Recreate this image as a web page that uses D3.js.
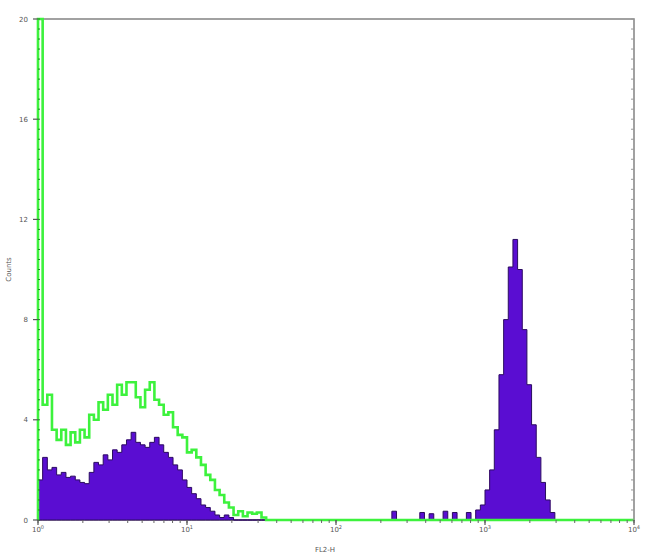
<!DOCTYPE html>
<html>
<head>
<meta charset="utf-8">
<script src="https://cdn.jsdelivr.net/npm/d3@7"></script>
<style>
  html, body { margin: 0; padding: 0; background: #fff; }
  svg { display: block; }
</style>
</head>
<body>
<svg id="chart" width="650" height="560"></svg>
<script>
// ---------- DATA ----------
// 128 log-spaced channels over 4 decades (10^0 .. 10^4); counts per channel
const binsPerDecade = 32;
const decades = [0, 1, 2, 3, 4];
const yTicks = [0, 4, 8, 12, 16, 20];
const xLabel = "FL2-H";
const yLabel = "Counts";

// stained sample (purple filled histogram)
const stainedCounts = [
  1.6, 2.5, 2.0, 2.1, 1.8, 1.9, 1.7, 1.75, 1.6, 1.5,
  1.45, 1.9, 2.3, 2.2, 2.6, 2.4, 2.8, 2.7, 3.0, 3.2,
  3.5, 3.1, 3.0, 2.9, 3.1, 3.3, 3.0, 2.7, 2.5, 2.2,
  2.0, 1.6, 1.3, 1.05, 0.85, 0.6, 0.5, 0.35, 0.2, 0.1,
  0.2, 0.1, 0, 0, 0, 0, 0, 0, 0, 0,
  0, 0, 0, 0, 0, 0, 0, 0, 0, 0,
  0, 0, 0, 0, 0, 0, 0, 0, 0, 0,
  0, 0, 0, 0, 0, 0, 0.35, 0, 0, 0,
  0, 0, 0.3, 0, 0.25, 0, 0, 0.35, 0, 0.3,
  0, 0, 0.3, 0, 0.4, 0.6, 1.2, 2.0, 3.6, 5.8,
  8.0, 10.1, 11.2, 10.0, 7.6, 5.4, 3.8, 2.5, 1.5, 0.8,
  0.3, 0, 0, 0, 0, 0, 0, 0, 0, 0,
  0, 0, 0, 0, 0, 0, 0, 0
];

// isotype control (green outline histogram)
const controlCounts = [
  20, 4.6, 5.0, 3.6, 3.2, 3.6, 3.0, 3.5, 3.1, 3.6,
  3.3, 4.2, 4.0, 4.7, 4.4, 5.0, 4.6, 5.4, 5.0, 5.5,
  5.5, 4.9, 4.5, 5.2, 5.5, 4.8, 4.6, 4.2, 4.3, 3.7,
  3.4, 3.3, 2.7, 2.8, 2.5, 2.2, 1.8, 1.6, 1.2, 1.0,
  0.7, 0.5, 0.2, 0.35, 0.15, 0.3, 0.25, 0.3, 0.1, 0,
  0, 0, 0, 0, 0, 0, 0, 0, 0, 0,
  0, 0, 0, 0, 0, 0, 0, 0, 0, 0,
  0, 0, 0, 0, 0, 0, 0, 0, 0, 0,
  0, 0, 0, 0, 0, 0, 0, 0, 0, 0,
  0, 0, 0, 0, 0, 0, 0, 0, 0, 0,
  0, 0, 0, 0, 0, 0, 0, 0, 0, 0,
  0, 0, 0, 0, 0, 0, 0, 0, 0, 0,
  0, 0, 0, 0, 0, 0, 0, 0
];

// ---------- LAYOUT ----------
const svg = d3.select("#chart");
const m = { left: 38, right: 16, top: 19, bottom: 40 };
const W = 650, H = 560;

const x = d3.scaleLog().domain([1, 1e4]).range([m.left, W - m.right]);
const y = d3.scaleLinear().domain([0, 20]).range([H - m.bottom, m.top]);

const toSeries = counts => {
  const pts = counts.map((c, i) => ({ lo: Math.pow(10, i / binsPerDecade), c: Math.min(c, 20) }));
  pts.push({ lo: Math.pow(10, counts.length / binsPerDecade), c: 0 });
  return pts;
};

const stained = toSeries(stainedCounts);
const control = toSeries(controlCounts);

const defs = svg.append("defs");
defs.append("filter").attr("id", "soft")
  .append("feGaussianBlur").attr("stdDeviation", 0.5);

// frame
const axisColor = "#8a8a8a";
svg.append("rect")
  .attr("x", x.range()[0]).attr("y", y.range()[1])
  .attr("width", x.range()[1] - x.range()[0])
  .attr("height", y.range()[0] - y.range()[1])
  .attr("fill", "none").attr("stroke", axisColor).attr("stroke-width", 1.6);

const marks = svg.append("g").attr("filter", "url(#soft)");

// purple filled histogram
const area = d3.area()
  .curve(d3.curveStepAfter)
  .x(d => x(d.lo)).y0(y(0)).y1(d => y(d.c));
marks.append("path").datum(stained)
  .attr("d", area)
  .attr("fill", "#5a0cd2")
  .attr("stroke", "#2a0860").attr("stroke-width", 1).attr("stroke-linejoin", "miter");

// green outline histogram
const line = d3.line()
  .curve(d3.curveStepAfter)
  .x(d => x(d.lo)).y(d => y(d.c));
marks.append("path").datum([{ lo: 1, c: 0 }].concat(control))
  .attr("d", line)
  .attr("fill", "none")
  .attr("stroke", "#3cf23c").attr("stroke-width", 2.6).attr("stroke-linejoin", "miter");

// y ticks (major, outside left) & minor (both sides, inside)
const gy = svg.append("g");
gy.selectAll("line.maj").data(yTicks).join("line")
  .attr("x1", x.range()[0] - 5).attr("x2", x.range()[0])
  .attr("y1", d => y(d)).attr("y2", d => y(d))
  .attr("stroke", "#555").attr("stroke-width", 1.2);
gy.selectAll("text").data(yTicks).join("text")
  .attr("x", x.range()[0] - 10).attr("y", d => y(d) + 2.5)
  .attr("text-anchor", "end")
  .attr("font-family", "DejaVu Sans, sans-serif").attr("font-size", 7)
  .attr("fill", "#555").text(d => d);
const minorY = d3.range(0, 20.01, 0.4);
gy.selectAll("line.minR").data(minorY).join("line")
  .attr("x1", x.range()[1] - 3).attr("x2", x.range()[1])
  .attr("y1", d => y(d)).attr("y2", d => y(d))
  .attr("stroke", "#999").attr("stroke-width", 1);
gy.selectAll("line.minL").data(minorY).join("line")
  .attr("x1", x.range()[0]).attr("x2", x.range()[0] + 2)
  .attr("y1", d => y(d)).attr("y2", d => y(d))
  .attr("stroke", "#1d8a1d").attr("stroke-width", 1);

// x ticks
const gx = svg.append("g");
const minorX = x.ticks();
gx.selectAll("line.min").data(minorX).join("line")
  .attr("x1", d => x(d)).attr("x2", d => x(d))
  .attr("y1", y(0)).attr("y2", y(0) + 3)
  .attr("stroke", "#666").attr("stroke-width", 1);
gx.selectAll("line.maj").data(decades).join("line")
  .attr("x1", d => x(Math.pow(10, d))).attr("x2", d => x(Math.pow(10, d)))
  .attr("y1", y(0)).attr("y2", y(0) + 5)
  .attr("stroke", "#555").attr("stroke-width", 1.2);
const lbl = gx.selectAll("text").data(decades).join("text")
  .attr("x", d => x(Math.pow(10, d)))
  .attr("y", y(0) + 12)
  .attr("text-anchor", "middle")
  .attr("font-family", "DejaVu Sans, sans-serif").attr("font-size", 7)
  .attr("fill", "#555");
lbl.append("tspan").text("10");
lbl.append("tspan").attr("dy", -3).attr("font-size", 5).text(d => d);

// axis titles
svg.append("text")
  .attr("x", (x.range()[0] + x.range()[1]) / 2 - 11)
  .attr("y", H - 8)
  .attr("text-anchor", "middle")
  .attr("font-family", "DejaVu Sans, sans-serif").attr("font-size", 7)
  .attr("fill", "#555").text(xLabel);
svg.append("text")
  .attr("transform", `translate(11,${(y.range()[0] + y.range()[1]) / 2}) rotate(-90)`)
  .attr("text-anchor", "middle")
  .attr("font-family", "DejaVu Sans, sans-serif").attr("font-size", 7)
  .attr("fill", "#555").text(yLabel);
</script>
</body>
</html>
